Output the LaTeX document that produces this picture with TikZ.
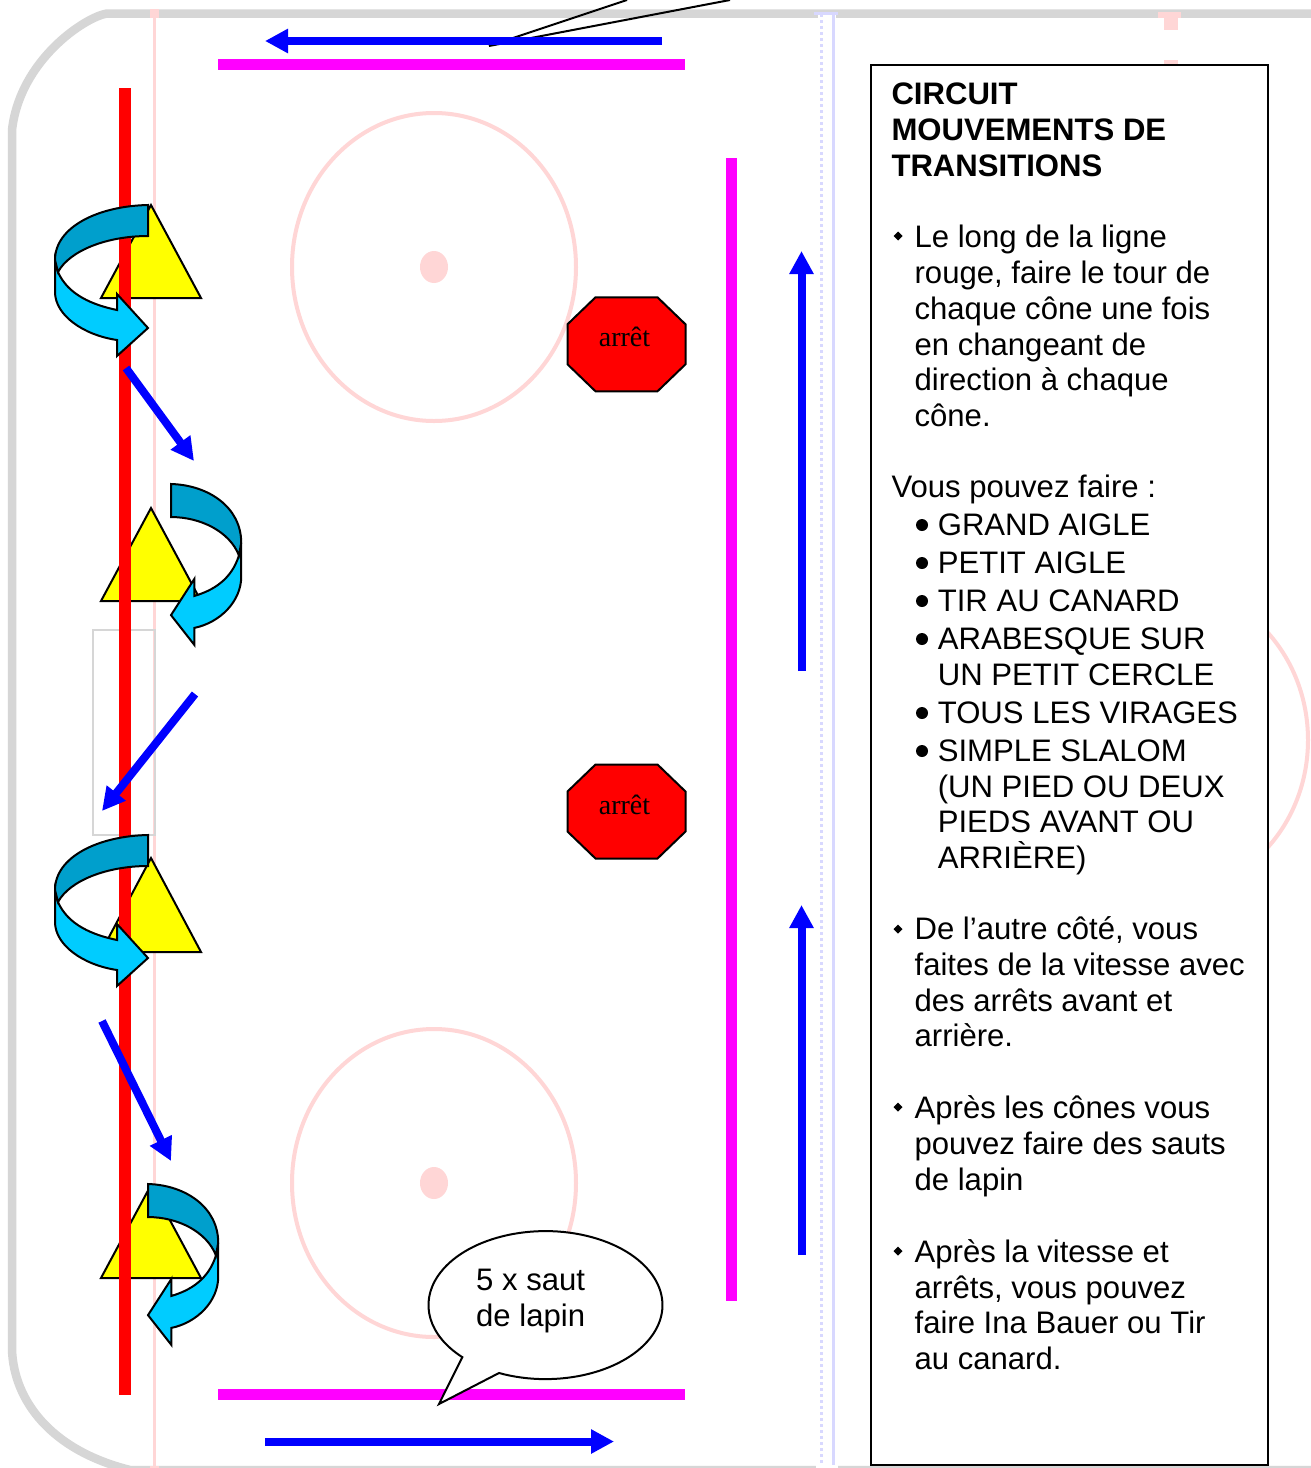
\documentclass[tikz,border=0pt]{standalone}
\usepackage{fontspec}
\setmainfont{Liberation Sans}
\newfontfamily\arretfont{Liberation Serif}
\usetikzlibrary{arrows.meta}
\definecolor{rinkgray}{HTML}{D6D6D6}
\definecolor{rinkpink}{HTML}{FFD6D6}
\definecolor{rinkblue}{HTML}{D8D8FF}
\definecolor{darkturn}{HTML}{009FCC}
\definecolor{lightturn}{HTML}{00CCFF}
\definecolor{conefill}{HTML}{FFFF00}
\definecolor{barrierfill}{HTML}{FF00FF}
\definecolor{purered}{HTML}{FF0000}
\definecolor{pureblue}{HTML}{0000FF}
\tikzset{
	bodytext/.style={font=\fontsize{31.1}{35.8}\selectfont, align=left, anchor=north west, inner sep=0pt},
	boldtext/.style={bodytext, font=\fontsize{31.1}{36}\selectfont\bfseries},
	skate/.style={pureblue, line width=8pt, -{Triangle[length=23pt,width=23pt]}},
	cone/.style={draw=black, fill=conefill, line width=2pt, line join=miter},
	band/.style={draw=black, line width=2pt, line join=miter},
	rink/.style={draw=rinkgray, line width=8.5pt},
	rinkmark/.style={draw=rinkpink, line width=4pt},
	barrier/.style={draw=barrierfill, line width=11pt}
}
\def\curvedarrow(#1)(#2:#3){
	\begin{scope}[shift={(#1)}, xscale=#2, yscale=#3]
		\draw[band, fill=lightturn] (-93, 55) -- (-93, 87) .. controls (-93, 110) and (-65, 130) .. (-31, 135) -- (-31, 151) -- (0, 123) -- (-31, 89) -- (-31, 105) .. controls (-55, 100) and (-80, 90) .. (-90, 67) -- cycle;
		\draw[band, fill=darkturn] (0, 0) .. controls (-50, 1) and (-93, 22) .. (-93, 55) -- (-90, 67) .. controls (-78, 45) and (-40, 31) .. (0, 31) -- cycle;
	\end{scope}
}
\def\arretsign(#1,#2)#3{
	\draw[fill=purered, line width=2pt] (#1-59, #2-20) -- (#1-31, #2-47) -- (#1+31, #2-47) -- (#1+59, #2-20) -- (#1+59, #2+20) -- (#1+31, #2+47) -- (#1-31, #2+47) -- (#1-59, #2+20) -- cycle;
	\node[font=\arretfont\fontsize{28}{30}\selectfont, inner sep=0pt] (#3) at (#1-2, #2-7) {arrêt};
}
\def\smallbullet(#1,#2){\fill (#1-4.5, #2) -- (#1, #2-4.5) -- (#1+4.5, #2) -- (#1, #2+4.5) -- cycle;}
\def\listbullet(#1,#2){\fill (#1, #2) circle (6);}

\begin{document}
\begin{tikzpicture}[x=1pt, y=-1pt]
		%%%%% START %%%%%
		\useasboundingbox (0, 0) rectangle (1311, 1468);
		\fill[white] (0, 0) rectangle (1311, 1468);
		
		% rink
		\draw[rink] (1311, 13.5) -- (107, 13.5) .. controls (85, 17) and (20, 60) .. (12, 130) -- (12, 1350) .. controls (14, 1400) and (50, 1450) .. (130, 1470) -- (1311, 1470);
		\draw[draw=rinkpink, line width=3pt] (154.5, 10) -- (154.5, 1468);
		\fill[rinkpink] (150, 9) rectangle (159, 18);
		\fill[rinkpink] (150, 1466) rectangle (159, 1468);
		\draw[draw=rinkgray, line width=2pt] (93, 630) rectangle (155, 835);
		\draw[rinkmark] (434, 267) ellipse (142 and 154);
		\draw[rinkmark] (434, 1183) ellipse (142 and 154);
		\draw[rinkmark] (1166, 740) ellipse (142 and 154);
		\fill[rinkpink] (434, 267) ellipse (14 and 16);
		\fill[rinkpink] (434, 1183) ellipse (14 and 16);
		\fill[rinkpink] (1158, 12) rectangle (1181, 18);
		\fill[rinkpink] (1164, 18) rectangle (1178, 30);
		\fill[rinkpink] (1164, 60) rectangle (1178, 66);
		\fill[white] (818, 12) rectangle (836, 18);
		\fill[white] (816, 1465) rectangle (838, 1468);
		\fill[rinkblue] (814, 12) rectangle (838, 15);
		\draw[draw=rinkblue, line width=3pt] (833.5, 14) -- (833.5, 1465);
		\draw[draw=rinkblue, line width=3pt, dash pattern=on 3pt off 3pt] (821.5, 14) -- (821.5, 1465);
		
		% barriers
		\draw[barrier] (218, 64.5) -- (685, 64.5);
		\draw[barrier] (218, 1394.5) -- (685, 1394.5);
		\draw[barrier] (731.5, 158) -- (731.5, 1301);
		
		% cut callout at the top
		\draw[line width=2pt] (627, 0) -- (489, 46) -- (730, 0);
		
		% cones and line
		\draw[cone] (151, 205) -- (201, 298) -- (101, 298) -- cycle;
		\draw[cone] (151, 508) -- (201, 601) -- (101, 601) -- cycle;
		\draw[cone] (151, 858) -- (201, 952) -- (101, 952) -- cycle;
		\draw[cone] (151, 1185) -- (201, 1278) -- (101, 1278) -- cycle;
		\draw[draw=purered, line width=11.5pt] (125, 88) -- (125, 1395);
		
		\curvedarrow(148, 205)(1:1)
		\curvedarrow(171, 484)(-0.755:1.066)
		\curvedarrow(148, 835)(1:1)
		\curvedarrow(148, 1184)(-0.755:1.066)
		
		% skating paths
		\draw[skate] (662, 41) -- (265, 41);
		\draw[skate] (265, 1441.5) -- (614, 1441.5);
		\draw[skate] (801.5, 671) -- (801.5, 251);
		\draw[skate] (801.5, 1255) -- (801.5, 905);
		\draw[skate] (126, 368) -- (194, 461);
		\draw[skate] (195, 694) -- (102, 811);
		\draw[skate] (102, 1021) -- (171, 1161);
		
		\arretsign(626.5,344.3){arret1}
		\arretsign(626.5,811.5){arret2}
		
		% bubble
		\draw[fill=white, line width=2pt] (499, 1373) arc (113.4:-224.7:117 and 74) -- (439, 1404) -- cycle;
		\node[bodytext] (lapin) at (476, 1265) {\strut 5 x saut\\de lapin};
		
		% text box
		\draw[fill=white, line width=2pt] (871, 65) rectangle (1268, 1465);
		\node[boldtext] (title) at (891.3, 79.5) {\strut CIRCUIT\\MOUVEMENTS DE\\TRANSITIONS};
		
		\smallbullet(898,236)
		\node[bodytext] (ligne) at (914.4, 222.4) {\strut Le long de la ligne\\rouge, faire le tour de\\chaque cône une fois\\en changeant de\\direction à chaque\\cône.};
		\node[bodytext] (vous) at (891.3, 472) {\strut Vous pouvez faire :};
		
		\listbullet(922,525)
		\node[bodytext] (item1) at (937.6, 510) {\strut GRAND AIGLE};
		\listbullet(922,563)
		\node[bodytext] (item2) at (937.6, 548) {\strut PETIT AIGLE};
		\listbullet(922,601)
		\node[bodytext] (item3) at (937.6, 586) {\strut TIR AU CANARD};
		\listbullet(922,639)
		\node[bodytext] (item4) at (937.6, 624) {\strut ARABESQUE SUR\\UN PETIT CERCLE};
		\listbullet(922,713)
		\node[bodytext] (item5) at (937.6, 698) {\strut TOUS LES VIRAGES};
		\listbullet(922,751)
		\node[bodytext] (item6) at (937.6, 736) {\strut SIMPLE SLALOM\\(UN PIED OU DEUX\\PIEDS AVANT OU\\ARRIÈRE)};
		
		\smallbullet(898,929)
		\node[bodytext] (autre) at (914.4, 914.2) {\strut De l’autre côté, vous\\faites de la vitesse avec\\des arrêts avant et\\arrière.};
		\smallbullet(898,1107)
		\node[bodytext] (sauts) at (914.4, 1093.2) {\strut Après les cônes vous\\pouvez faire des sauts\\de lapin};
		\smallbullet(898,1251)
		\node[bodytext] (vitesse) at (914.4, 1237) {\strut Après la vitesse et\\arrêts, vous pouvez\\faire Ina Bauer ou Tir\\au canard.};
		%%%%% END %%%%%
	\end{tikzpicture}
\end{document}
